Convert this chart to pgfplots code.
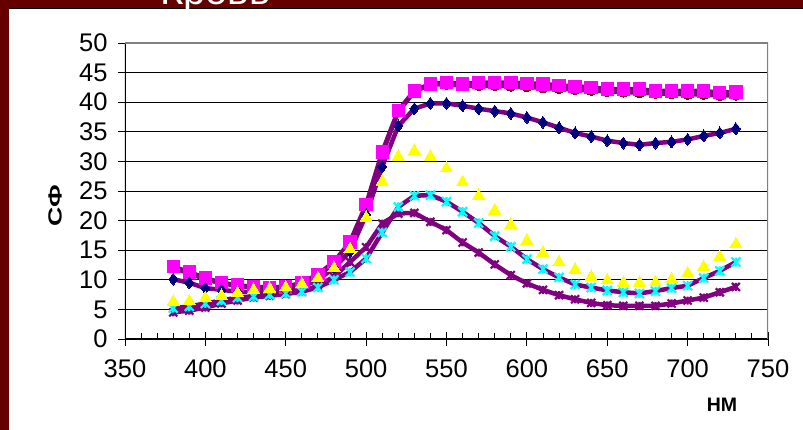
\documentclass[border=0pt]{standalone}
\usepackage{pgfplots}
\pgfplotsset{compat=1.18}
\usepackage{pgfplotstable}
\usepackage{fontspec}
\setmainfont{Liberation Sans}
\definecolor{maroonbg}{HTML}{660000}
\definecolor{plum}{HTML}{800080}
\definecolor{mag}{HTML}{FF00FF}
\definecolor{navyc}{HTML}{000080}
\definecolor{yel}{HTML}{FFFF00}
\definecolor{cyn}{HTML}{00FFFF}
\definecolor{dred}{HTML}{8B0000}
\pgfdeclareplotmark{xstar}{%
  \pgfpathmoveto{\pgfqpoint{-\pgfplotmarksize}{-\pgfplotmarksize}}%
  \pgfpathlineto{\pgfqpoint{\pgfplotmarksize}{\pgfplotmarksize}}%
  \pgfpathmoveto{\pgfqpoint{-\pgfplotmarksize}{\pgfplotmarksize}}%
  \pgfpathlineto{\pgfqpoint{\pgfplotmarksize}{-\pgfplotmarksize}}%
  \pgfpathmoveto{\pgfqpoint{0pt}{-\pgfplotmarksize}}%
  \pgfpathlineto{\pgfqpoint{0pt}{\pgfplotmarksize}}%
  \pgfusepathqstroke}
\pgfplotstableread{
x   M     R     N     Y     C     P
380 12.2  12.0  10.1  6.3   5.2   4.5
390 11.3  11.1  9.5   6.4   5.5   4.8
400 10.3  10.1  8.6   6.9   6.0   5.3
410 9.5   9.4   8.3   7.3   6.5   6.0
420 9.1   9.0   8.0   7.8   7.0   6.5
430 8.8   8.7   7.9   8.3   7.2   7.0
440 8.7   8.6   8.0   8.5   7.5   7.3
450 8.8   8.7   8.2   8.7   7.7   7.6
460 9.5   9.4   8.8   9.3   8.0   8.0
470 10.9  10.8  10.0  10.3  8.7   9.0
480 13.0  12.9  12.0  12.0  10.0  10.5
490 16.4  16.2  14.8  15.2  11.3  13.0
500 22.7  22.4  21.0  20.5  13.6  15.5
510 31.6  31.3  29.1  26.6  18.0  19.5
520 38.6  38.4  36.0  30.8  22.3  21.2
530 41.9  41.8  38.9  31.8  24.2  21.3
540 43.1  43.0  39.8  30.8  24.3  19.8
550 43.3  43.0  39.8  28.8  23.2  18.4
560 43.1  42.8  39.4  26.5  21.5  16.3
570 43.3  42.8  38.9  24.2  19.6  14.6
580 43.3  42.8  38.5  21.7  17.4  12.6
590 43.3  42.7  38.1  19.3  15.6  10.8
600 43.2  42.6  37.4  16.6  13.5  9.4
610 43.1  42.4  36.6  14.6  11.8  8.3
620 42.8  42.3  35.7  13.0  10.4  7.4
630 42.7  42.1  34.8  11.7  9.2   6.7
640 42.5  42.0  34.2  10.5  8.7   6.1
650 42.2  41.8  33.5  9.9   8.2   5.7
660 42.2  41.7  33.1  9.5   7.9   5.6
670 42.2  41.6  32.8  9.5   7.7   5.6
680 41.9  41.5  33.1  9.6   8.1   5.6
690 41.9  41.4  33.3  10.1  8.6   6.0
700 41.9  41.3  33.7  11.1  9.0   6.5
710 41.9  41.3  34.3  12.2  10.3  7.0
720 41.6  41.1  34.8  13.9  11.5  7.9
730 41.7  41.2  35.5  16.0  13.0  8.8
}\datatable
\begin{document}
\begin{tikzpicture}
\useasboundingbox (0,0) rectangle (803pt,430pt);
\fill[white] (0,0) rectangle (803pt,430pt);
\fill[maroonbg] (0,0) rectangle (9pt,430pt);
\fill[maroonbg] (0,422pt) rectangle (803pt,430pt);
\draw[black, line width=0.8pt] (9pt,422pt) -- (803pt,422pt);
\begin{scope}
\clip (0,0) rectangle (803pt,430pt);
\node[white, inner sep=0pt, font=\fontsize{40}{48}\selectfont, anchor=base] at (215pt,425pt) {Кровь};
\end{scope}
\begin{axis}[
  at={(125pt,91pt)}, anchor=south west,
  scale only axis, width=643pt, height=296pt,
  xmin=350, xmax=750, ymin=0, ymax=50,
  xtick={350,400,...,750}, ytick={0,5,...,50},
  minor x tick num=4,
  xtick pos=bottom, ytick pos=left,
  tick align=center,
  major tick length=14pt, minor tick length=6pt,
  minor x tick style={yshift=3pt},
  tick style={black, line width=0.9pt},
  ymajorgrids, grid style={black, line width=0.9pt},
  axis line style={draw=none},
  /pgf/number format/assume math mode=true,
  ticklabel style={font=\fontsize{25.5}{30}\selectfont},
  xticklabel style={yshift=-10pt},
  yticklabel style={xshift=-7pt},
  every axis plot/.append style={line join=round},
]
\addplot[plum, line width=4.5pt, mark=*, mark size=5pt, mark options={dred, fill=dred, line width=0pt}] table[x=x, y=R] {\datatable};
\addplot[plum, line width=4.5pt, mark=square*, mark size=6.2pt, mark options={mag, fill=mag, line width=0pt}] table[x=x, y=M] {\datatable};
\addplot[plum, line width=4.5pt, mark=diamond*, mark size=6pt, mark options={navyc, fill=navyc, line width=0pt}] table[x=x, y=N] {\datatable};
\addplot[plum, line width=4.5pt, mark=xstar, mark size=4pt, mark options={plum, line width=2.2pt}] table[x=x, y=P] {\datatable};
\addplot[plum, line width=4.5pt, mark=xstar, mark size=4.5pt, mark options={cyn, line width=2.2pt}] table[x=x, y=C] {\datatable};
\addplot[only marks, mark=triangle*, mark size=7pt, mark options={yel, fill=yel, line width=0pt}] table[x=x, y=Y] {\datatable};
\draw[black, line width=1.2pt] (rel axis cs:0,1) -- (rel axis cs:0,0) -- (rel axis cs:1,0);
\draw[gray, line width=2pt] (rel axis cs:0,1) -- (rel axis cs:1,1) -- (rel axis cs:1,0);
\end{axis}
\node[rotate=90, font=\bfseries\fontsize{19}{23}\selectfont] at (55pt,224pt) {\scalebox{1.4}[1]{СФ}};
\node[font=\bfseries\fontsize{19.5}{23}\selectfont] at (722pt,25pt) {НМ};
\end{tikzpicture}
\end{document}
